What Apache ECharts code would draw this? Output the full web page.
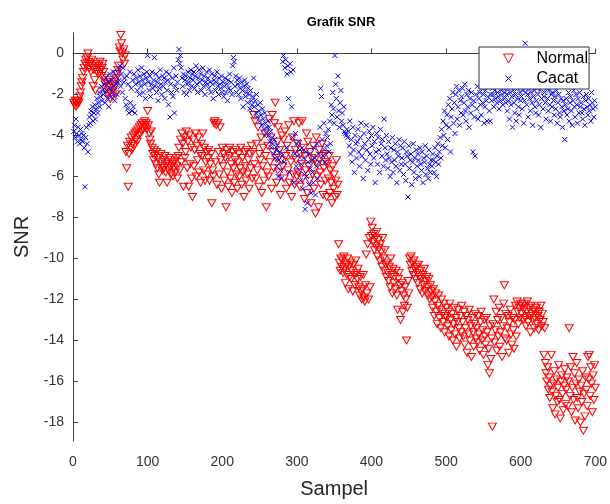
<!DOCTYPE html>
<html>
<head>
<meta charset="utf-8">
<script src="https://cdn.jsdelivr.net/npm/echarts@6/dist/echarts.min.js"></script>
<style>html,body{margin:0;padding:0;background:#fff;}#c{width:610px;height:504px;}</style>
</head>
<body>
<div id="c"></div>
<script>
// Sample index runs 1..700 for both series (one value per sample)
const titleText = 'Grafik SNR';
const xName = 'Sampel';
const yName = 'SNR';
const seriesNames = ['Normal', 'Cacat'];
const xTicks = [0, 100, 200, 300, 400, 500, 600, 700];
const yTicks = [-18, -16, -14, -12, -10, -8, -6, -4, -2, 0];

const normalY = [
-2.4,-2.5,-2.3,-2.6,-2.4,-2.5,-2.3,-2.4,-2.1,-1.9,-1.6,-1.4,-1.2,-0.9,-0.7,-0.5,-0.3,-0.6,-0.2,0.0,
-0.4,-0.7,-0.5,-0.9,-0.3,-0.6,-1.6,-0.8,-1.3,-1.8,-0.5,-0.9,-0.7,-1.0,-0.6,-0.4,-0.8,-1.1,-0.7,-0.5,
-0.9,-1.2,-1.5,-1.8,-1.4,-2.0,-1.6,-1.3,-1.9,-2.2,-1.7,-1.5,-2.1,-1.8,-1.4,-1.6,-2.0,-1.2,-1.0,-0.8,
-0.6,0.3,0.1,0.9,0.5,0.0,-0.3,0.2,-0.5,-0.1,-4.8,-5.6,-4.5,-6.5,-4.9,-4.3,-4.6,-4.1,-4.7,-4.4,
-4.0,-4.5,-3.9,-4.2,-3.8,-4.3,-3.7,-4.0,-3.6,-3.9,-3.5,-3.8,-3.4,-3.7,-3.5,-3.3,-3.6,-3.4,-3.7,-2.8,
-3.5,-3.9,-4.2,-4.4,-3.8,-4.6,-4.9,-5.2,-4.7,-5.0,-5.4,-4.8,-5.6,-5.1,-5.9,-6.3,-5.3,-4.9,-5.5,-5.7,
-5.2,-5.6,-5.0,-5.8,-5.4,-6.3,-5.3,-5.7,-5.1,-5.5,-5.9,-5.2,-5.4,-6.0,-5.6,-5.3,-5.8,-5.1,-5.5,-6.1,
-5.0,-4.6,-5.7,-4.2,-5.3,-3.9,-4.4,-6.5,-4.1,-5.1,-4.8,-3.8,-5.6,-4.3,-6.5,-4.0,-5.4,-4.6,-6.1,-7.0,
-4.2,-5.5,-4.7,-3.9,-6.0,-4.5,-5.2,-4.1,-5.8,-4.9,-6.3,-4.4,-5.0,-3.9,-5.7,-4.6,-6.2,-5.3,-4.8,-5.9,
-5.1,-4.7,-6.2,-5.4,-4.9,-7.3,-5.7,-6.0,-3.4,-3.3,-5.3,-3.5,-6.4,-3.4,-4.8,-5.9,-3.6,-5.2,-6.6,-4.6,
-5.5,-4.9,-6.2,-5.1,-7.5,-4.7,-5.8,-6.5,-5.0,-4.6,-6.1,-5.4,-6.8,-4.8,-5.6,-6.3,-5.2,-4.7,-5.9,-6.6,
-5.3,-4.9,-6.0,-5.6,-4.6,-6.4,-5.1,-5.8,-7.0,-4.8,-5.5,-6.2,-4.7,-5.9,-5.2,-6.6,-4.9,-5.6,-4.5,-6.1,
-4.8,-3.0,-5.4,-3.3,-6.1,-4.4,-5.7,-3.6,-6.5,-4.9,-5.2,-4.1,-6.8,-5.5,-4.6,-6.2,-3.9,-5.0,-7.5,-5.8,
-4.5,-6.0,-3.2,-5.3,-4.1,-6.6,-3.0,-4.8,-5.6,-3.4,-2.4,-5.1,-6.3,-4.3,-3.6,-5.8,-4.7,-6.9,-5.2,-4.0,
-5.5,-4.2,-6.1,-3.8,-5.0,-6.6,-4.5,-5.7,-3.5,-6.3,-4.9,-5.3,-7.0,-4.1,-5.9,-3.3,-6.4,-4.7,-5.2,-6.0,
-4.4,-5.8,-3.4,-6.5,-4.9,-5.4,-3.3,-6.1,-4.6,-7.1,-5.0,-5.7,-3.9,-6.8,-4.3,-5.5,-6.2,-4.8,-7.3,-5.1,
-5.9,-4.5,-6.6,-5.2,-7.8,-4.1,-6.0,-5.4,-7.5,-4.7,-5.8,-6.4,-5.0,-4.4,-6.9,-5.6,-4.9,-6.2,-5.3,-7.0,
-5.4,-6.1,-5.0,-6.8,-5.7,-6.3,-7.3,-5.5,-6.6,-5.9,-7.0,-6.2,-5.2,-6.9,-6.4,-9.3,-10.2,-10.6,-10.0,-10.4,
-10.1,-10.7,-9.9,-10.5,-11.2,-10.3,-10.8,-10.0,-11.5,-10.4,-10.9,-10.2,-11.0,-10.6,-11.6,-10.3,-10.8,-11.3,-10.1,-10.7,
-11.0,-10.5,-11.4,-11.8,-10.9,-11.6,-12.0,-11.5,-10.8,-11.9,-12.1,-11.3,-9.8,-11.7,-9.3,-12.0,-9.0,-11.4,-8.2,-8.9,
-8.5,-9.2,-8.8,-9.6,-9.0,-9.4,-8.7,-9.9,-9.1,-9.5,-10.1,-9.3,-9.7,-10.4,-9.0,-10.0,-10.6,-9.6,-10.3,-10.9,
-10.2,-10.7,-11.1,-10.4,-11.4,-10.0,-10.8,-11.7,-10.5,-11.2,-10.9,-11.5,-10.6,-11.8,-12.5,-11.0,-10.7,-11.3,-13.0,-11.6,
-11.2,-12.6,-11.8,-12.3,-11.4,-12.0,-14.0,-12.4,-11.1,-11.7,-10.0,-10.3,-9.9,-10.6,-10.2,-10.8,-10.1,-10.5,-11.0,-10.4,
-10.7,-11.2,-10.3,-10.9,-11.5,-10.6,-11.0,-11.7,-10.8,-11.3,-10.5,-11.6,-11.1,-10.9,-11.4,-11.8,-11.0,-12.0,-11.3,-11.6,
-11.9,-12.4,-11.5,-12.8,-12.1,-11.7,-12.6,-13.2,-12.3,-11.8,-12.9,-12.5,-13.4,-12.0,-12.7,-13.1,-12.2,-13.6,-12.8,-12.4,
-12.9,-13.3,-12.6,-13.8,-12.2,-13.0,-13.5,-12.7,-14.0,-13.2,-12.4,-13.7,-12.9,-14.3,-13.1,-12.5,-13.4,-13.9,-12.8,-13.6,
-12.3,-13.1,-13.8,-12.6,-14.2,-13.4,-12.8,-14.6,-13.0,-13.7,-12.5,-14.0,-13.3,-14.8,-12.9,-13.6,-14.3,-13.2,-12.7,-13.9,
-13.4,-14.1,-12.8,-13.7,-14.5,-13.1,-12.6,-14.0,-13.5,-14.7,-13.0,-13.8,-14.2,-12.9,-13.6,-15.2,-14.4,-15.6,-13.3,-14.9,
-13.9,-18.2,-13.2,-12.0,-14.1,-13.5,-12.6,-14.5,-13.0,-13.8,-12.4,-14.3,-13.6,-12.9,-14.8,-13.3,-12.2,-11.3,-13.9,-12.7,
-14.0,-13.4,-12.8,-14.6,-13.1,-12.5,-13.7,-14.2,-12.9,-13.5,-14.4,-13.0,-12.3,-13.8,-12.1,-12.6,-13.2,-12.4,-12.9,-12.2,
-12.7,-12.3,-13.0,-12.5,-12.2,-12.9,-13.3,-12.6,-12.1,-13.1,-12.4,-12.8,-13.6,-12.3,-12.7,-13.0,-12.5,-13.4,-12.9,-12.6,
-12.4,-13.2,-12.8,-13.5,-12.6,-13.0,-12.3,-13.3,-12.7,-13.1,-14.7,-13.4,-15.1,-15.6,-16.0,-15.3,-16.4,-15.8,-16.8,-16.2,
-14.7,-16.5,-17.3,-16.1,-15.5,-17.6,-16.7,-15.9,-17.0,-16.3,-15.2,-16.9,-17.8,-16.0,-15.7,-16.6,-17.4,-16.2,-15.4,-17.1,
-16.4,-15.8,-17.2,-16.0,-13.4,-16.7,-15.3,-17.5,-16.3,-14.8,-16.9,-15.6,-17.9,-16.1,-15.1,-16.8,-17.3,-15.9,-16.5,-18.0,
-16.2,-17.0,-15.5,-18.4,-16.6,-17.7,-15.8,-16.4,-17.2,-14.8,-15.9,-14.7,-16.7,-15.3,-16.1,-17.5,-15.7,-16.9,-15.2,-16.3
];

const cacatY = [
-3.8,-3.5,-4.1,-3.2,-3.9,-4.3,-3.6,-4.0,-4.4,-3.7,-4.2,-3.9,-4.3,-4.0,-4.6,-6.5,-4.1,-3.6,-4.4,-4.8,
-3.5,-3.1,-3.4,-2.8,-3.0,-2.6,-3.3,-2.9,-2.5,-3.2,-2.7,-2.2,-2.9,-2.4,-1.9,-2.6,-2.1,-1.6,-2.3,-1.8,
-2.0,-1.5,-2.4,-1.2,-1.8,-2.2,-1.4,-2.6,-1.0,-1.7,-2.1,-1.3,-1.9,-0.9,-1.6,-2.3,-1.1,-1.5,-2.0,-1.4,
-0.8,-1.3,-0.6,-1.6,-1.0,-1.9,-0.7,-1.4,-1.2,-2.2,-2.5,-1.1,-2.7,-1.5,-2.9,-0.9,-2.4,-1.7,-2.8,-1.3,
-2.6,-1.0,-2.9,-1.5,-1.2,-1.8,-0.8,-1.4,-2.0,-1.1,-1.6,-0.7,-1.3,-1.9,-1.0,-1.5,-2.2,-1.2,-0.9,-0.1,
-1.4,-1.8,-1.1,-2.1,-1.5,-0.9,-1.7,-1.3,-0.2,-1.6,-1.0,-1.9,-1.4,-2.3,-1.2,-1.7,-0.8,-1.5,-2.0,-1.1,
-1.6,-1.2,-2.2,-1.4,-0.9,-1.8,-1.3,-2.5,-1.0,-3.1,-1.5,-1.9,-1.2,-2.1,-0.7,-2.9,-1.6,-1.1,-1.8,-1.4,
-0.3,0.2,-0.5,-0.1,-0.7,-1.2,-1.6,-1.0,-1.9,-1.3,-1.1,-2.0,-1.5,-0.9,-1.4,-1.8,-1.2,-0.8,-1.6,-1.0,
-1.3,-0.9,-1.7,-1.1,-0.6,-1.5,-1.9,-1.2,-0.8,-1.4,-1.0,-1.8,-1.3,-0.7,-1.6,-1.1,-2.0,-1.4,-0.9,-1.5,
-1.2,-1.7,-0.8,-1.4,-1.9,-1.0,-1.5,-2.2,-1.3,-1.1,-1.8,-1.4,-0.9,-1.6,-2.0,-1.2,-1.5,-1.7,-1.1,-1.9,
-1.4,-2.1,-1.6,-1.2,-1.9,-1.5,-2.3,-1.3,-1.7,-1.0,-1.8,-1.4,-2.0,-0.6,-0.2,-0.4,-1.6,-1.1,-1.9,-1.3,
-1.5,-2.0,-1.2,-1.7,-2.2,-1.4,-1.8,-2.6,-1.6,-1.3,-2.1,-1.9,-1.5,-2.4,-1.7,-2.0,-2.7,-1.8,-2.3,-2.5,
-2.1,-1.2,-2.6,-2.3,-2.9,-2.0,-3.1,-2.5,-2.8,-3.3,-2.4,-3.0,-3.5,-2.7,-3.2,-3.7,-2.9,-3.4,-3.9,-3.6,
-3.3,-4.0,-3.6,-4.3,-3.8,-4.6,-4.1,-4.4,-4.9,-4.2,-5.1,-4.7,-5.5,-4.5,-6.0,-5.2,-4.8,-5.7,-6.1,-5.0,
-0.4,-0.1,-5.3,-0.7,-0.3,-4.6,-1.0,-0.6,-2.2,-5.8,-0.5,-0.9,-2.6,-4.1,-0.8,-6.3,-4.9,-3.9,-5.5,-4.4,
-5.0,-4.3,-5.7,-4.7,-6.2,-5.4,-4.6,-6.6,-5.1,-5.9,-7.6,-4.8,-6.0,-7.3,-5.3,-6.4,-4.9,-5.6,-6.8,-5.2,
-5.8,-6.3,-4.6,-5.1,-6.9,-5.5,-4.4,-6.1,-4.9,-5.3,-3.6,-1.7,-2.1,-4.2,-5.0,-3.4,-4.7,-5.3,-3.9,-4.5,
-4.1,-3.7,-4.8,-3.3,-4.4,-2.5,-3.0,-1.9,-2.7,-3.4,-0.1,-1.5,-2.2,-3.1,-1.1,-2.8,-3.6,-2.4,-1.8,-3.3,
-2.9,-3.5,-2.6,-3.8,-3.9,-4.0,-3.7,-4.1,-3.8,-4.5,-3.3,-4.9,-4.2,-5.3,-3.6,-4.7,-5.8,-4.0,-4.4,-5.1,
-4.3,-3.7,-4.8,-5.5,-4.1,-3.4,-5.0,-4.6,-6.1,-3.9,-4.4,-5.2,-3.5,-4.7,-5.7,-4.2,-3.8,-4.9,-5.4,-4.0,
-4.5,-3.6,-5.1,-4.3,-6.3,-4.8,-3.9,-5.4,-4.1,-4.7,-5.8,-3.7,-4.4,-5.0,-4.2,-5.5,-3.2,-4.6,-5.2,-4.0,
-4.9,-5.6,-4.3,-5.1,-6.0,-4.6,-5.3,-4.1,-5.8,-4.7,-5.2,-4.4,-5.5,-6.3,-4.8,-5.0,-4.2,-5.7,-4.5,-5.4,
-5.1,-4.6,-5.9,-4.3,-5.4,-6.2,-4.8,-5.0,-7.0,-4.5,-5.6,-5.2,-4.9,-6.4,-5.3,-4.4,-5.8,-5.1,-6.1,-4.7,
-5.5,-4.9,-5.2,-6.0,-4.6,-5.4,-5.7,-4.8,-6.3,-5.1,-5.3,-4.5,-5.9,-5.0,-5.6,-6.1,-4.7,-5.4,-5.8,-5.2,
-5.5,-4.9,-5.2,-5.8,-4.6,-5.3,-6.0,-5.0,-4.4,-5.4,-4.8,-4.1,-5.1,-3.7,-4.5,-3.3,-4.0,-2.8,-4.6,-3.5,
-3.0,-4.2,-2.5,-3.6,-2.2,-4.8,-3.1,-2.7,-1.9,-3.4,-2.4,-3.9,-2.0,-1.6,-3.2,-2.6,-1.8,-3.5,-2.3,-2.9,
-2.1,-1.7,-3.0,-2.4,-1.5,-2.8,-3.3,-2.0,-2.6,-1.8,-3.6,-2.2,-2.9,-1.9,-2.5,-4.8,-2.3,-3.1,-5.0,-2.0,
-2.7,-1.6,-3.2,-2.2,-1.9,-2.5,-3.0,-1.7,-2.4,-2.0,-3.4,-2.6,-1.8,-2.3,-3.3,-2.1,-1.6,-2.8,-3.3,-2.0,
-2.3,-1.7,-2.0,-2.6,-1.8,-2.2,-1.5,-2.4,-1.9,-2.1,-2.7,-1.6,-2.3,-1.8,-2.0,-2.5,-1.7,-2.2,-1.9,-2.4,
-2.0,-2.8,-1.7,-2.3,-3.2,-1.9,-2.5,-2.1,-3.6,-1.8,-2.4,-2.9,-2.0,-3.3,-2.2,-1.7,-2.6,-3.0,-1.9,-2.3,
-2.1,-2.7,-1.8,-3.4,-2.3,0.5,-1.9,-2.5,-2.0,-3.1,-1.7,-2.2,-2.8,-1.9,-2.4,-3.5,-2.1,-1.8,-2.6,-2.9,
-2.3,-1.7,-2.0,-3.0,-2.5,-1.8,-3.6,-2.2,-1.6,-2.7,-2.1,-1.9,-2.4,-3.2,-1.7,-2.2,-2.8,-1.8,-2.5,-3.3,
-2.0,-2.6,-1.9,-2.3,-3.0,-2.1,-2.7,-1.8,-3.4,-2.4,-2.0,-2.9,-3.1,-2.2,-2.6,-3.6,-2.3,-2.8,-4.2,-2.5,
-2.2,-3.0,-2.7,-1.9,-3.3,-2.4,-2.1,-2.8,-3.5,-2.3,-1.8,-2.6,-3.1,-2.0,-2.5,-3.4,-2.2,-2.9,-1.9,-2.6,
-2.4,-2.9,-3.2,-2.1,-2.7,-3.5,-2.3,-2.0,-2.6,-3.0,-2.2,-2.8,-2.5,-3.3,-1.9,-2.4,-2.7,-3.1,-2.3,-2.6
];

const FONT = '"Liberation Sans", Arial, Helvetica, sans-serif';
const TRI_DOWN = 'path://M0,0L10,0L5,9Z';
const CROSS = 'path://M0,0L10,10M0,10L10,0';
const CROSS_LEGEND = 'path://M-2,-2M0,0L6,6M0,6L6,0M8,8';

const toPoints = arr => arr.map((v, i) => [i + 1, v]);

const chart = echarts.init(document.getElementById('c'), null, {renderer: 'canvas'});
chart.setOption({
  animation: false,
  backgroundColor: '#ffffff',
  title: {
    text: titleText,
    left: 336, top: 11, textAlign: 'center',
    textStyle: {fontFamily: FONT, fontSize: 13, fontWeight: 'bold', color: '#000'}
  },
  legend: {
    orient: 'vertical',
    left: 479, top: 47,
    padding: [3, 1, 2, 24],
    itemWidth: 10, itemHeight: 10, itemGap: 3,
    backgroundColor: '#fff',
    borderColor: '#333', borderWidth: 1, borderRadius: 0,
    textStyle: {fontFamily: FONT, fontSize: 16, lineHeight: 17, color: '#000', padding: [0, 0, 0, 18]},
    itemStyle: {borderWidth: 1},
    data: [
      {name: seriesNames[0], icon: TRI_DOWN},
      {name: seriesNames[1], icon: CROSS_LEGEND}
    ]
  },
  grid: {left: 73, right: 12, top: 33, bottom: 58, containLabel: false},
  xAxis: {
    type: 'value', min: 0, max: 700, interval: 100,
    name: xName, nameLocation: 'middle', nameGap: 38,
    nameTextStyle: {fontFamily: FONT, fontSize: 20, color: '#262626'},
    axisLine: {show: true, lineStyle: {color: '#404040', width: 1}},
    axisTick: {show: true, inside: true, length: 5, lineStyle: {color: '#404040'}},
    axisLabel: {fontFamily: FONT, fontSize: 14, color: '#333', margin: 14,
      customValues: xTicks},
    splitLine: {show: false}
  },
  yAxis: {
    type: 'value', min: -18.9, max: 1.0,
    name: yName, nameLocation: 'middle', nameGap: 41, nameRotate: 90,
    nameTextStyle: {fontFamily: FONT, fontSize: 20, color: '#262626'},
    axisLine: {show: true, lineStyle: {color: '#404040', width: 1}},
    axisTick: {show: true, inside: true, length: 5, lineStyle: {color: '#404040'},
      customValues: yTicks},
    axisLabel: {fontFamily: FONT, fontSize: 14, color: '#333', margin: 9,
      customValues: yTicks},
    splitLine: {show: false}
  },
  series: [
    {
      name: seriesNames[0], type: 'scatter',
      data: toPoints(normalY),
      symbol: TRI_DOWN, symbolSize: [8, 7],
      itemStyle: {color: 'rgba(255,255,255,0)', borderColor: '#ff0000', borderWidth: 1, opacity: 1}
    },
    {
      name: seriesNames[1], type: 'scatter',
      data: toPoints(cacatY),
      symbol: CROSS, symbolSize: 5,
      itemStyle: {color: 'rgba(255,255,255,0)', borderColor: '#0000ff', borderWidth: 1, opacity: 1}
    }
  ]
});
</script>
</body>
</html>
